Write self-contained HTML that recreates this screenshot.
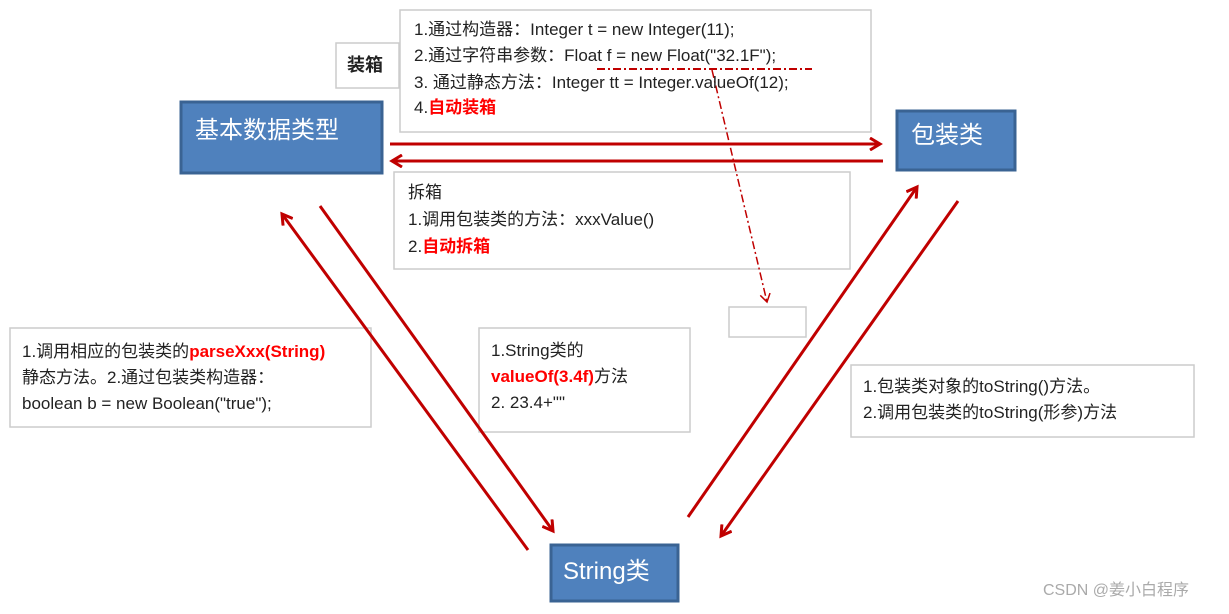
<!DOCTYPE html>
<html><head><meta charset="utf-8"><style>
body{margin:0;background:#fff;}
svg text{font-family:"Liberation Sans","Noto Sans CJK SC",sans-serif;}
</style></head><body>
<svg width="1229" height="609" viewBox="0 0 1229 609" xmlns="http://www.w3.org/2000/svg">
<defs>
<marker id="ah" markerWidth="14" markerHeight="14" refX="11" refY="7" orient="auto" markerUnits="userSpaceOnUse">
<path d="M1,1 L11,7 L1,13" fill="none" stroke="#c00000" stroke-width="3"/>
</marker>
<marker id="ah2" markerWidth="12" markerHeight="12" refX="9" refY="6" orient="auto" markerUnits="userSpaceOnUse">
<path d="M1,1 L9,6 L1,11" fill="none" stroke="#c00000" stroke-width="1.5"/>
</marker>
</defs>
<g fill="#fff" stroke="#ccc" stroke-width="1.5">
<rect x="400" y="10" width="471" height="122"/>
<rect x="336" y="43" width="63" height="45"/>
<rect x="394" y="172" width="456" height="97"/>
<rect x="729" y="307" width="77" height="30"/>
<rect x="10" y="328" width="361" height="99"/>
<rect x="479" y="328" width="211" height="104"/>
<rect x="851" y="365" width="343" height="72"/>
</g>
<g fill="#4f81bd" stroke="#3a6393" stroke-width="3">
<rect x="181" y="102" width="201" height="71"/>
<rect x="897" y="111" width="118" height="59"/>
<rect x="551" y="545" width="127" height="56"/>
</g>
<g fill="#fff" font-size="24">
<text x="195" y="138">基本数据类型</text>
<text x="911" y="143">包装类</text>
<text x="563" y="579">String类</text>
</g>
<g stroke="#c00000" stroke-width="3" fill="none">
<line x1="390" y1="144" x2="880" y2="144" marker-end="url(#ah)"/>
<line x1="883" y1="161" x2="392" y2="161" marker-end="url(#ah)"/>
<line x1="320" y1="206" x2="553" y2="531" marker-end="url(#ah)"/>
<line x1="528" y1="550" x2="282" y2="214" marker-end="url(#ah)"/>
<line x1="688" y1="517" x2="917" y2="187" marker-end="url(#ah)"/>
<line x1="958" y1="201" x2="721" y2="536" marker-end="url(#ah)"/>
</g>
<g stroke="#c00000" stroke-width="2" fill="none" stroke-dasharray="8,3,2,3">
<line x1="597" y1="69" x2="812" y2="69"/>
<line x1="712" y1="70" x2="767" y2="302" stroke-width="1.5" marker-end="url(#ah2)"/>
</g>
<g font-size="17" fill="#222">
<text x="414" y="35">1.通过构造器：Integer t = new Integer(11);</text>
<text x="414" y="61">2.通过字符串参数：Float f = new Float("32.1F");</text>
<text x="414" y="88">3. 通过静态方法：Integer tt = Integer.valueOf(12);</text>
<text x="414" y="113">4.<tspan fill="#f00" font-weight="bold">自动装箱</tspan></text>
<text x="347" y="71" font-weight="bold" font-size="18">装箱</text>
<text x="408" y="198">拆箱</text>
<text x="408" y="225">1.调用包装类的方法：xxxValue()</text>
<text x="408" y="252">2.<tspan fill="#f00" font-weight="bold">自动拆箱</tspan></text>
<text x="22" y="357">1.调用相应的包装类的<tspan fill="#f00" font-weight="bold">parseXxx(String)</tspan></text>
<text x="22" y="383">静态方法。2.通过包装类构造器：</text>
<text x="22" y="409">boolean b = new Boolean("true");</text>
<text x="491" y="356">1.String类的</text>
<text x="491" y="382"><tspan fill="#f00" font-weight="bold">valueOf(3.4f)</tspan>方法</text>
<text x="491" y="408">2. 23.4+""</text>
<text x="863" y="392">1.包装类对象的toString()方法。</text>
<text x="863" y="418">2.调用包装类的toString(形参)方法</text>
</g>
<text x="1043" y="595" font-size="16" fill="#aaa">CSDN @姜小白程序</text>
</svg>
</body></html>
